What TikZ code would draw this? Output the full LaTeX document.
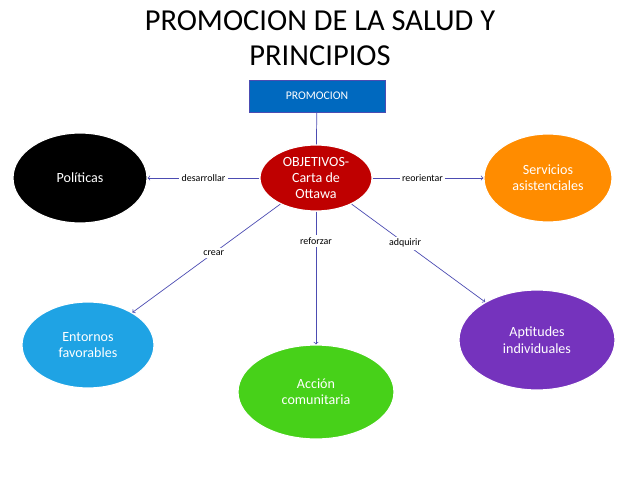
\documentclass[tikz,border=0pt]{standalone}
\usepackage{fontspec}
\setmainfont{Carlito}
\usetikzlibrary{shapes.geometric}
\tikzset{
	blob/.style={ellipse, draw=white, line width=1pt, text=white, font=\fontsize{12}{14}\selectfont, align=center, inner sep=0pt},
	link/.style={draw=blue!40!gray, semithick, -to},
	verb/.style={fill=white, font=\fontsize{8.5}{10}\selectfont, inner sep=2pt}
}
\begin{document}
\begin{tikzpicture}[x=0.03cm, y=-0.03cm]
	\useasboundingbox (0,0) rectangle (638,479);
	\node[font=\fontsize{26}{30}\selectfont, align=center] (title) at (320,38) {PROMOCION DE LA SALUD Y\\PRINCIPIOS};
	\node[draw=blue!40!gray, fill=blue!45!cyan!75!black, text=white, minimum width=136*0.03cm, minimum height=32*0.03cm, font=\fontsize{10}{12}\selectfont] (prom) at (317,96) {PROMOCION};

	\node[blob, fill=red!75!black, minimum width=112*0.03cm, minimum height=66*0.03cm] (obj) at (316,178) {OBJETIVOS-\\Carta de\\Ottawa};
	\node[blob, fill=black, minimum width=134*0.03cm, minimum height=90*0.03cm] (pol) at (80,178) {Políticas};
	\node[blob, fill=orange!90!yellow, minimum width=128*0.03cm, minimum height=88*0.03cm] (serv) at (548,178) {Servicios\\asistenciales};
	\node[blob, fill=cyan!85!blue!90, minimum width=132*0.03cm, minimum height=86*0.03cm] (ent) at (88,345) {Entornos\\favorables};
	\node[blob, fill=green!60!olive!90, minimum width=156*0.03cm, minimum height=94*0.03cm] (acc) at (316,392) {Acción\\comunitaria};
	\node[blob, fill=violet!65!blue!80, minimum width=156*0.03cm, minimum height=100*0.03cm] (apt) at (537,340) {Aptitudes\\individuales};

	\draw [draw=blue!40!gray, semithick] (prom) -- (obj);
	\draw [link] (obj) -- node[verb]{desarrollar} (pol);
	\draw [link] (obj) -- node[verb, pos=0.45]{reorientar} (serv);
	\draw [link] (obj) -- node[verb, pos=0.45]{crear} (ent);
	\draw [link] (obj) -- node[verb, pos=0.22]{reforzar} (acc);
	\draw [link] (obj) -- node[verb, pos=0.4]{adquirir} (apt);
\end{tikzpicture}
\end{document}
